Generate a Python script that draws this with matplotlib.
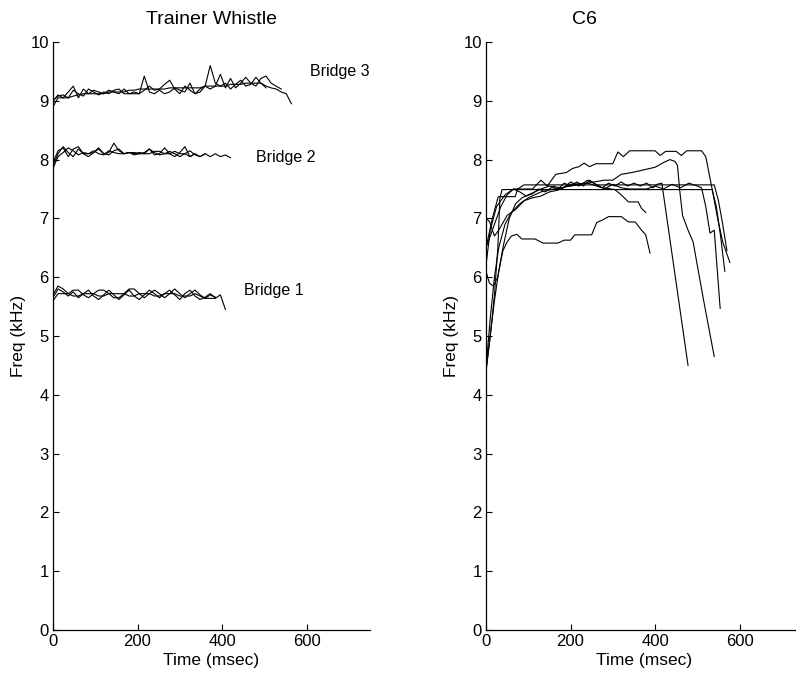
import matplotlib
matplotlib.use("Agg")
import matplotlib.pyplot as plt

plt.rcParams['font.family'] = ['Liberation Sans', 'DejaVu Sans']

# ---------------- Trainer Whistle (left panel) ----------------
dt_ms = 12  # frame interval of the frequency contours (ms)

bridge1_a = [5.60, 5.72, 5.72, 5.72, 5.68, 5.68, 5.72, 5.72, 5.72, 5.68, 5.68, 5.72, 5.72, 5.72,
             5.72, 5.68, 5.68, 5.72, 5.72, 5.72, 5.68, 5.68, 5.72, 5.72, 5.72, 5.68, 5.68, 5.68,
             5.72, 5.68, 5.64, 5.64, 5.64, 5.70, 5.45]
bridge1_b = [5.65, 5.80, 5.75, 5.68, 5.75, 5.65, 5.72, 5.78, 5.68, 5.62, 5.70, 5.78, 5.70, 5.62,
             5.70, 5.78, 5.68, 5.62, 5.70, 5.78, 5.72, 5.65, 5.72, 5.78, 5.70, 5.62, 5.72, 5.78,
             5.68, 5.62, 5.66, 5.72, 5.65]
bridge1_c = [5.70, 5.85, 5.80, 5.72, 5.78, 5.78, 5.70, 5.65, 5.72, 5.78, 5.78, 5.72, 5.65, 5.65,
             5.72, 5.80, 5.80, 5.72, 5.65, 5.72, 5.78, 5.72, 5.65, 5.72, 5.80, 5.72, 5.65, 5.72,
             5.78, 5.70, 5.64, 5.70, 5.66]

bridge2_a = [7.90, 8.10, 8.22, 8.12, 8.05, 8.18, 8.10, 8.10, 8.15, 8.10, 8.08, 8.15, 8.12, 8.10,
             8.10, 8.12, 8.12, 8.10, 8.10, 8.10, 8.14, 8.14, 8.10, 8.10, 8.14, 8.10, 8.10, 8.05,
             8.10, 8.05, 8.10, 8.05, 8.10, 8.05, 8.08, 8.03]
bridge2_b = [7.95, 8.15, 8.20, 8.05, 8.18, 8.22, 8.10, 8.05, 8.12, 8.20, 8.10, 8.12, 8.28, 8.15,
             8.10, 8.12, 8.10, 8.12, 8.10, 8.18, 8.08, 8.10, 8.20, 8.10, 8.05, 8.12, 8.22, 8.05,
             8.10]
bridge2_c = [7.85, 8.05, 8.12, 8.20, 8.15, 8.08, 8.12, 8.10, 8.12, 8.18, 8.10, 8.08, 8.15, 8.18,
             8.10, 8.12, 8.08, 8.10, 8.12, 8.18, 8.12, 8.08, 8.10, 8.14, 8.10, 8.05, 8.10, 8.15,
             8.08, 8.05, 8.10]

bridge3_a = [8.90, 9.05, 9.05, 9.05, 9.08, 9.10, 9.12, 9.12, 9.12, 9.12, 9.12, 9.15, 9.15, 9.15,
             9.15, 9.18, 9.18, 9.20, 9.20, 9.20, 9.20, 9.20, 9.20, 9.22, 9.22, 9.22, 9.22, 9.22,
             9.22, 9.22, 9.25, 9.25, 9.25, 9.25, 9.25, 9.28, 9.28, 9.28, 9.30, 9.30, 9.30, 9.30,
             9.25, 9.22, 9.20, 9.15, 9.12, 8.95]
bridge3_b = [9.00, 9.10, 9.05, 9.15, 9.25, 9.05, 9.20, 9.12, 9.18, 9.15, 9.12, 9.18, 9.15, 9.12,
             9.20, 9.12, 9.12, 9.12, 9.42, 9.15, 9.12, 9.18, 9.12, 9.15, 9.22, 9.18, 9.15, 9.30,
             9.12, 9.15, 9.25, 9.60, 9.30, 9.25, 9.30, 9.20, 9.28, 9.35, 9.25, 9.28, 9.40, 9.30,
             9.22]
bridge3_c = [9.00, 9.08, 9.10, 9.05, 9.18, 9.12, 9.08, 9.20, 9.15, 9.10, 9.15, 9.12, 9.18, 9.20,
             9.12, 9.12, 9.15, 9.12, 9.18, 9.25, 9.18, 9.20, 9.28, 9.35, 9.20, 9.12, 9.25, 9.18,
             9.12, 9.20, 9.25, 9.20, 9.25, 9.45, 9.22, 9.38, 9.22, 9.30, 9.40, 9.30, 9.25, 9.38,
             9.42, 9.30, 9.25, 9.20]

whistle_contours = [bridge1_a, bridge1_b, bridge1_c,
                    bridge2_a, bridge2_b, bridge2_c,
                    bridge3_a, bridge3_b, bridge3_c]
bridge_labels = ["Bridge 1", "Bridge 2", "Bridge 3"]
bridge_label_x = [452, 480, 608]
bridge_label_y = [5.78, 8.03, 9.50]

# ---------------- C6 (right panel) ----------------
c6_t1 = [0, 10, 25, 45, 65, 110, 130, 145, 165, 190, 205, 220, 232, 245, 260, 300, 312, 325, 340,
         400, 412, 425, 450, 462, 475, 510, 520, 535, 548, 560, 577]
c6_f1 = [6.2, 6.8, 7.2, 7.4, 7.5, 7.5, 7.65, 7.55, 7.75, 7.78, 7.85, 7.88, 7.94, 7.88, 7.93, 7.93,
         8.13, 8.05, 8.15, 8.15, 8.07, 8.14, 8.14, 8.07, 8.15, 8.15, 8.05, 7.5, 7.0, 6.6, 6.25]
c6_t2 = [0, 10, 20, 30, 45, 60, 80, 100, 130, 160, 200, 240, 280, 300, 320, 345, 370, 400, 420,
         435, 447, 453, 458, 465, 478, 490, 515, 540]
c6_f2 = [4.45, 5.3, 6.0, 6.5, 6.9, 7.1, 7.25, 7.35, 7.45, 7.5, 7.55, 7.6, 7.65, 7.65, 7.75, 7.78,
         7.82, 7.87, 7.95, 8.0, 7.97, 7.9, 7.5, 7.05, 6.8, 6.6, 5.6, 4.65]
c6_t3 = [0, 10, 20, 30, 40, 50, 60, 73, 85, 116, 135, 170, 185, 200, 210, 250, 262, 275, 290, 320,
         337, 353, 368, 378, 388]
c6_f3 = [4.4, 5.0, 5.6, 6.1, 6.45, 6.6, 6.7, 6.73, 6.65, 6.65, 6.58, 6.58, 6.63, 6.63, 6.72, 6.72,
         6.93, 6.97, 7.03, 7.03, 6.94, 6.94, 6.8, 6.72, 6.41]
c6_t4 = [0, 8, 20, 30, 50, 70, 90, 110, 130, 150, 170, 185, 200, 240, 270, 305, 320, 337, 360, 368, 378]
c6_f4 = [7.0, 6.95, 6.7, 6.8, 7.05, 7.15, 7.3, 7.35, 7.38, 7.45, 7.48, 7.53, 7.58, 7.6, 7.53, 7.49,
         7.4, 7.28, 7.28, 7.17, 7.1]
c6_t5 = [0, 10, 20, 28, 33, 38, 535, 545, 555, 565]
c6_f5 = [4.4, 5.0, 5.7, 6.5, 7.35, 7.49, 7.49, 7.2, 6.7, 6.1]
c6_t6 = [0, 8, 17, 28, 40, 55, 70, 85, 100, 115, 130, 150, 170, 185, 200, 215, 230, 245, 260, 275,
         290, 305, 320, 335, 350, 365, 380, 395, 405, 416, 478]
c6_f6 = [6.1, 5.9, 5.85, 6.0, 6.5, 7.0, 7.25, 7.35, 7.4, 7.45, 7.5, 7.55, 7.5, 7.6, 7.55, 7.62,
         7.55, 7.65, 7.58, 7.52, 7.6, 7.55, 7.62, 7.55, 7.6, 7.55, 7.6, 7.52, 7.58, 7.6, 4.5]
c6_t7 = [0, 10, 20, 35, 50, 65, 80, 95, 110, 125, 140, 160, 180, 200, 220, 240, 260, 280, 300, 320,
         340, 360, 380, 400, 420, 440, 460, 480, 500, 510, 520, 530, 540, 554]
c6_f7 = [6.5, 6.7, 6.9, 7.2, 7.4, 7.5, 7.45, 7.38, 7.42, 7.5, 7.45, 7.55, 7.5, 7.62, 7.55, 7.65,
         7.58, 7.5, 7.58, 7.52, 7.5, 7.5, 7.5, 7.55, 7.5, 7.58, 7.52, 7.6, 7.55, 7.52, 7.2, 6.75,
         6.8, 5.47]
c6_t8 = [0, 15, 29, 69, 75, 90, 540, 550, 560, 570]
c6_f8 = [6.5, 7.0, 7.37, 7.37, 7.5, 7.57, 7.57, 7.3, 6.9, 6.45]

c6_contours = [(c6_t1, c6_f1), (c6_t2, c6_f2), (c6_t3, c6_f3), (c6_t4, c6_f4),
               (c6_t5, c6_f5), (c6_t6, c6_f6), (c6_t7, c6_f7), (c6_t8, c6_f8)]

xticks = [0, 200, 400, 600]
yticks = [0, 1, 2, 3, 4, 5, 6, 7, 8, 9, 10]

fig = plt.figure(figsize=(7.96, 6.77), dpi=100)
axL = fig.add_axes([53 / 796, 47 / 677, 317 / 796, 588 / 677])
axR = fig.add_axes([486 / 796, 47 / 677, 317 / 796, 588 / 677])

lw = 0.8
for vals in whistle_contours:
    axL.plot([i * dt_ms for i in range(len(vals))], vals, color='black', lw=lw)
for lab, lx, ly in zip(bridge_labels, bridge_label_x, bridge_label_y):
    axL.text(lx, ly, lab, fontsize=11.5, ha='left', va='center')

for t, f in c6_contours:
    axR.plot(t, f, color='black', lw=lw)

for ax, title, tx in [(axL, "Trainer Whistle", 0.5), (axR, "C6", 0.309)]:
    ax.set_xlim(0, 750)
    ax.set_ylim(0, 10)
    ax.set_xticks(xticks)
    ax.set_yticks(yticks)
    ax.spines['top'].set_visible(False)
    ax.spines['right'].set_visible(False)
    ax.spines['left'].set_linewidth(0.9)
    ax.spines['bottom'].set_linewidth(0.9)
    ax.tick_params(direction='in', length=4, width=0.8, labelsize=12, pad=3)
    ax.set_xlabel("Time (msec)", fontsize=12.5)
    ax.set_ylabel("Freq (kHz)", fontsize=12.5)
    ax.xaxis.set_label_coords(0.5, -(653 - 630) / 588)
    ax.yaxis.set_label_coords(-27 / 317, 0.5)
    ax.text(tx, 1 + 22 / 588, title, transform=ax.transAxes, fontsize=14,
            ha='center', va='center')

fig.savefig("out.png", dpi=100)
